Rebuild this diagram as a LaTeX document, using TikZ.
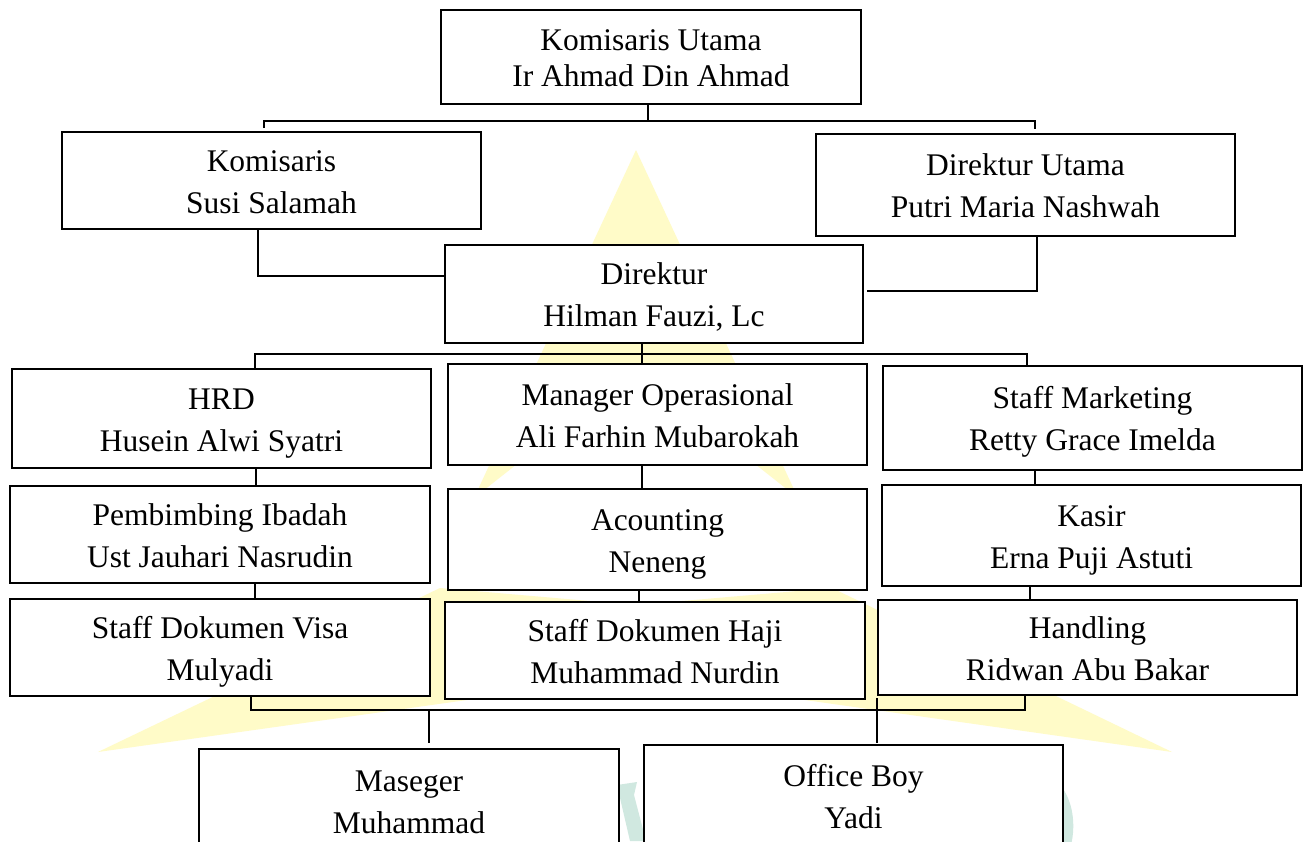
\documentclass[tikz,border=0pt]{standalone}
\usepackage{fontspec}
\setmainfont{Liberation Serif}
\definecolor{wmyellow}{RGB}{255,251,200}
\definecolor{wmgreen}{RGB}{208,232,224}
\newcommand\lineA{\rule{0pt}{30pt}}
\newcommand\lineB{\rule[-7pt]{0pt}{7pt}}
\tikzset{
  orgbox/.style={draw, line width=1.6pt, fill=white, align=center, inner sep=2pt,
    font=\fontsize{31.5}{42}\selectfont},
  conn/.style={line width=1.4pt},
}
\begin{document}
\begin{tikzpicture}[x=1pt,y=-1pt]
\useasboundingbox (0,0) rectangle (1306,841);
\clip (0,0) rectangle (1306,841);
\fill[white] (0,0) rectangle (1306,841);
% watermark
\fill[wmyellow] (636,150) -- (474,498) -- (636,370) -- (798,498) -- cycle;
\fill[wmyellow] (98,752) -- (440,588) -- (636,605) -- (832,588) -- (1172,752) -- (805,700) -- (636,680) -- (467,700) -- cycle;
\fill[wmgreen] (617,785) -- (637,782) -- (634,795) -- (646,841) -- (630,841) -- cycle;
\fill[wmgreen] (1060,785) .. controls (1073,800) and (1076,825) .. (1071,845) -- (1060,845) -- cycle;
% boxes
\node[orgbox, minimum width=420pt, minimum height=94pt, font=\fontsize{31.5}{36}\selectfont] (ku) at (651,57) {\lineA Komisaris Utama\\\lineB Ir Ahmad Din Ahmad};
\node[orgbox, minimum width=419pt, minimum height=97pt] (kom) at (271.5,180.5) {\lineA Komisaris\\\lineB Susi Salamah};
\node[orgbox, minimum width=419pt, minimum height=102pt] (du) at (1025.5,185) {\lineA Direktur Utama\\\lineB Putri Maria Nashwah};
\node[orgbox, minimum width=418pt, minimum height=98pt] (dir) at (654,294) {\lineA Direktur\\\lineB Hilman Fauzi, Lc};
\node[orgbox, minimum width=419pt, minimum height=99pt] (hrd) at (221.5,418.5) {\lineA HRD\\\lineB Husein Alwi Syatri};
\node[orgbox, minimum width=419pt, minimum height=101pt] (mo) at (657.5,414.5) {\lineA Manager Operasional\\\lineB Ali Farhin Mubarokah};
\node[orgbox, minimum width=419pt, minimum height=104pt] (sm) at (1092.5,418) {\lineA Staff Marketing\\\lineB Retty Grace Imelda};
\node[orgbox, minimum width=420pt, minimum height=97pt] (pi) at (220,534.5) {\lineA Pembimbing Ibadah\\\lineB Ust Jauhari Nasrudin};
\node[orgbox, minimum width=419pt, minimum height=101pt] (ac) at (657.5,539.5) {\lineA Acounting\\\lineB Neneng};
\node[orgbox, minimum width=419pt, minimum height=101pt] (ka) at (1091.5,535.5) {\lineA Kasir\\\lineB Erna Puji Astuti};
\node[orgbox, minimum width=420pt, minimum height=97pt] (sv) at (220,647.5) {\lineA Staff Dokumen Visa\\\lineB Mulyadi};
\node[orgbox, minimum width=420pt, minimum height=97pt] (sh) at (655,650.5) {\lineA Staff Dokumen Haji\\\lineB Muhammad Nurdin};
\node[orgbox, minimum width=419pt, minimum height=95pt] (ha) at (1087.5,647.5) {\lineA Handling\\\lineB Ridwan Abu Bakar};
\node[orgbox, minimum width=420pt, minimum height=104pt] (ma) at (409,801) {\lineA Maseger\\\lineB Muhammad};
\node[orgbox, minimum width=419pt, minimum height=102pt] (ob) at (853.5,796) {\lineA Office Boy\\\lineB Yadi};
% helper coordinates
\coordinate (bL) at (264,121); \coordinate (bR) at (1035,121); \coordinate (bM) at (648,121);
\coordinate (tL) at (264,128); \coordinate (tR) at (1035,129);
\coordinate (kd) at (258,276);
\coordinate (dd) at (1037,291); \coordinate (ddE) at (867,291);
\coordinate (b2M) at (642,354); \coordinate (b2L) at (255,354); \coordinate (b2R) at (1027,354);
\coordinate (v1) at (256,0); \coordinate (v2) at (642,0); \coordinate (v3) at (1035,0);
\coordinate (v4) at (255,0); \coordinate (v5) at (639,0); \coordinate (v6) at (1030,0);
\coordinate (b3L) at (251,710); \coordinate (b3R) at (1025,710);
\coordinate (m1) at (429,710); \coordinate (m1e) at (429,743);
\coordinate (o1) at (877,698); \coordinate (o1e) at (877,743);
% connectors
\draw[conn] (bM |- ku.south) -- (bM);
\draw[conn] (tL) -- (bL) -- (bR) -- (tR);
\draw[conn] (kd |- kom.south) -- (kd) -- (kd -| dir.west);
\draw[conn] (dd |- du.south) -- (dd) -- (ddE);
\draw[conn] (b2M |- dir.south) -- (b2M |- mo.north);
\draw[conn] (b2L |- hrd.north) -- (b2L) -- (b2R) -- (b2R |- sm.north);
\draw[conn] (v1 |- hrd.south) -- (v1 |- pi.north);
\draw[conn] (v2 |- mo.south) -- (v2 |- ac.north);
\draw[conn] (v3 |- sm.south) -- (v3 |- ka.north);
\draw[conn] (v4 |- pi.south) -- (v4 |- sv.north);
\draw[conn] (v5 |- ac.south) -- (v5 |- sh.north);
\draw[conn] (v6 |- ka.south) -- (v6 |- ha.north);
\draw[conn] (b3L |- sv.south) -- (b3L) -- (b3R) -- (b3R |- ha.south);
\draw[conn] (m1) -- (m1e);
\draw[conn] (o1) -- (o1e);
\end{tikzpicture}
\end{document}
